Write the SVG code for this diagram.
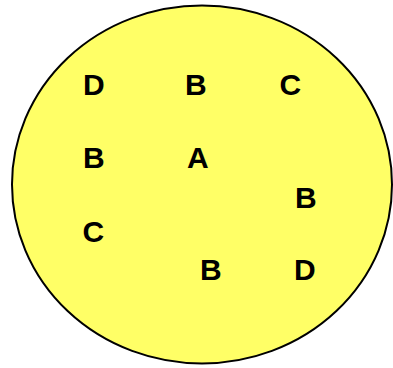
<svg xmlns="http://www.w3.org/2000/svg" width="393" height="368" viewBox="0 0 393 368">
<style>
text{font-family:"Liberation Sans",Arial,sans-serif;font-weight:bold;font-size:30px;fill:#000}
</style>
<g id="set">
<ellipse cx="202" cy="184.5" rx="190" ry="179" fill="#FFFF66" stroke="#000" stroke-width="2"/>
</g>
<g id="letters">
<text x="83" y="95">D</text>
<text x="185" y="95">B</text>
<text x="279.5" y="95">C</text>
<text x="83" y="168">B</text>
<text x="187" y="168">A</text>
<text x="295" y="208">B</text>
<text x="82.5" y="242">C</text>
<text x="200" y="280">B</text>
<text x="294" y="280">D</text>
</g>
</svg>
